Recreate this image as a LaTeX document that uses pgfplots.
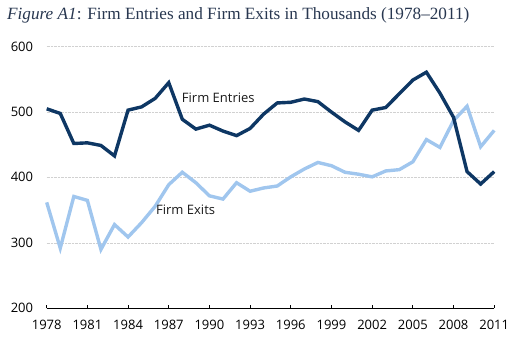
\documentclass[border=0pt]{standalone}
\usepackage{fontspec}
\setmainfont{Liberation Serif}
\newfontfamily\labelfont{Open Sans}
\usepackage{pgfplots}
\pgfplotsset{compat=1.18}
\definecolor{entc}{RGB}{14,55,100}
\definecolor{exitc}{RGB}{160,198,238}
\definecolor{titlec}{RGB}{40,55,80}
\pgfplotstableread{
year entries exits
1978 505 362
1979 498 292
1980 452 371
1981 453 365
1982 449 290
1983 433 328
1984 503 309
1985 508 331
1986 521 356
1987 545 389
1988 489 408
1989 474 392
1990 480 372
1991 471 367
1992 464 392
1993 475 379
1994 497 384
1995 514 387
1996 515 401
1997 520 413
1998 516 423
1999 500 418
2000 485 408
2001 472 405
2002 503 401
2003 507 410
2004 528 412
2005 549 424
2006 561 458
2007 529 446
2008 492 487
2009 409 509
2010 390 447
2011 409 472
}\datatable
\begin{document}
\begin{tikzpicture}
\begin{axis}[
  name=ax,
  width=447.5pt, height=261.6pt, scale only axis,
  xmin=1978, xmax=2011, ymin=200, ymax=600,
  clip=false,
  axis x line*=bottom, axis y line*=left,
  y axis line style={draw=none},
  x axis line style={-, draw=black, line width=1.1pt},
  xtick={1978,1981,...,2011},
  ytick={200,300,...,600},
  ymajorgrids,
  grid style={densely dotted, color=black!18, line width=0.6pt},
  tick align=inside,
  major tick length=3.5pt,
  x tick style={draw=black, line width=1pt},
  y tick style={draw=none},
  /pgf/number format/assume math mode=true,
  /pgf/number format/1000 sep={},
  ticklabel style={font=\labelfont\fontsize{13}{15}\selectfont, text=black},
  x tick label style={anchor=base, inner sep=0pt, yshift=-21.7pt},
  y tick label style={anchor=base east, inner sep=0pt, xshift=-13.4pt, yshift=-4.5pt},
]
\addplot[color=exitc, line width=3.4pt] table[x=year, y=exits] {\datatable};
\addplot[color=entc, line width=3.4pt] table[x=year, y=entries] {\datatable};
\node[anchor=base west, inner sep=0pt, font=\labelfont\fontsize{13}{15}\selectfont, text=black!90] at (axis cs:1987.96,515) {Firm Entries};
\node[anchor=base west, inner sep=0pt, font=\labelfont\fontsize{13}{15}\selectfont, text=black!90] at (axis cs:1986.06,343.7) {Firm Exits};
\node[anchor=base west, inner sep=0pt, font=\fontsize{17.2}{19}\selectfont, text=titlec] at ([shift={(-39.7pt,27.2pt)}]rel axis cs:0,1) {\textit{Figure A1}: Firm Entries and Firm Exits in Thousands (1978–2011)};
\end{axis}
\pgfresetboundingbox
\path[use as bounding box] ([shift={(-46.7pt,-28.7pt)}]ax.south west) rectangle ++(514pt,337pt);
\end{tikzpicture}
\end{document}
